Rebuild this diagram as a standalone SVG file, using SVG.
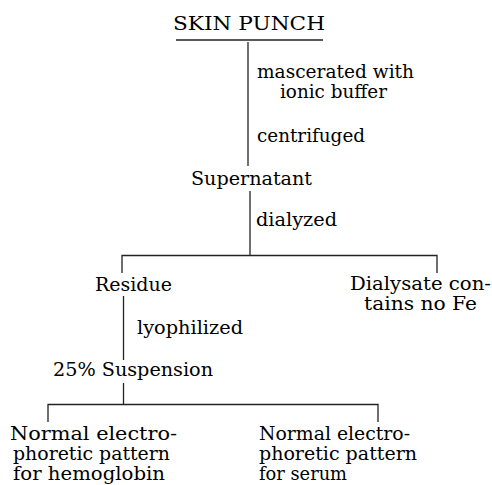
<svg xmlns="http://www.w3.org/2000/svg" width="492" height="485" viewBox="0 0 492 485">
<style>
text{font-family:"DejaVu Serif","Liberation Serif",serif;font-size:18px;fill:#000;}
.c line,.c polyline{stroke:#222;stroke-width:1.3;fill:none;}
</style>
<rect width="492" height="485" fill="#fff"/>
<g class="c" id="connectors">
<line x1="176" y1="40" x2="323" y2="40"/>
<line x1="248" y1="42" x2="248" y2="166"/>
<line x1="250" y1="191" x2="250" y2="255"/>
<polyline points="122,273 122,255.5 437,255.5 437,273"/>
<line x1="123.5" y1="296" x2="123.5" y2="360"/>
<line x1="123.5" y1="383" x2="123.5" y2="405"/>
<polyline points="48,422 48,404.5 378,404.5 378,422"/>
</g>
<g id="skin-punch"><text x="173" y="30" textLength="152" lengthAdjust="spacingAndGlyphs">SKIN PUNCH</text></g>
<g id="label-mascerated">
<text x="257" y="78" textLength="157" lengthAdjust="spacingAndGlyphs">mascerated with</text>
<text x="280" y="98" textLength="107" lengthAdjust="spacingAndGlyphs">ionic buffer</text>
</g>
<g id="label-centrifuged"><text x="257" y="142" textLength="108" lengthAdjust="spacingAndGlyphs">centrifuged</text></g>
<g id="supernatant"><text x="191" y="185" textLength="121" lengthAdjust="spacingAndGlyphs">Supernatant</text></g>
<g id="label-dialyzed"><text x="256" y="226" textLength="81" lengthAdjust="spacingAndGlyphs">dialyzed</text></g>
<g id="residue"><text x="95" y="291" textLength="77" lengthAdjust="spacingAndGlyphs">Residue</text></g>
<g id="dialysate">
<text x="350" y="290" textLength="141" lengthAdjust="spacingAndGlyphs">Dialysate con-</text>
<text x="364" y="310" textLength="113" lengthAdjust="spacingAndGlyphs">tains no Fe</text>
</g>
<g id="label-lyophilized"><text x="137" y="334" textLength="106" lengthAdjust="spacingAndGlyphs">lyophilized</text></g>
<g id="suspension"><text x="53" y="376" textLength="160" lengthAdjust="spacingAndGlyphs">25% Suspension</text></g>
<g id="hemoglobin">
<text x="10" y="440" textLength="167" lengthAdjust="spacingAndGlyphs">Normal electro-</text>
<text x="13" y="460" textLength="157" lengthAdjust="spacingAndGlyphs">phoretic pattern</text>
<text x="13" y="480" textLength="152" lengthAdjust="spacingAndGlyphs">for hemoglobin</text>
</g>
<g id="serum">
<text x="259" y="440" textLength="151" lengthAdjust="spacingAndGlyphs">Normal electro-</text>
<text x="259" y="460" textLength="158" lengthAdjust="spacingAndGlyphs">phoretic pattern</text>
<text x="259" y="480" textLength="88" lengthAdjust="spacingAndGlyphs">for serum</text>
</g>
</svg>
